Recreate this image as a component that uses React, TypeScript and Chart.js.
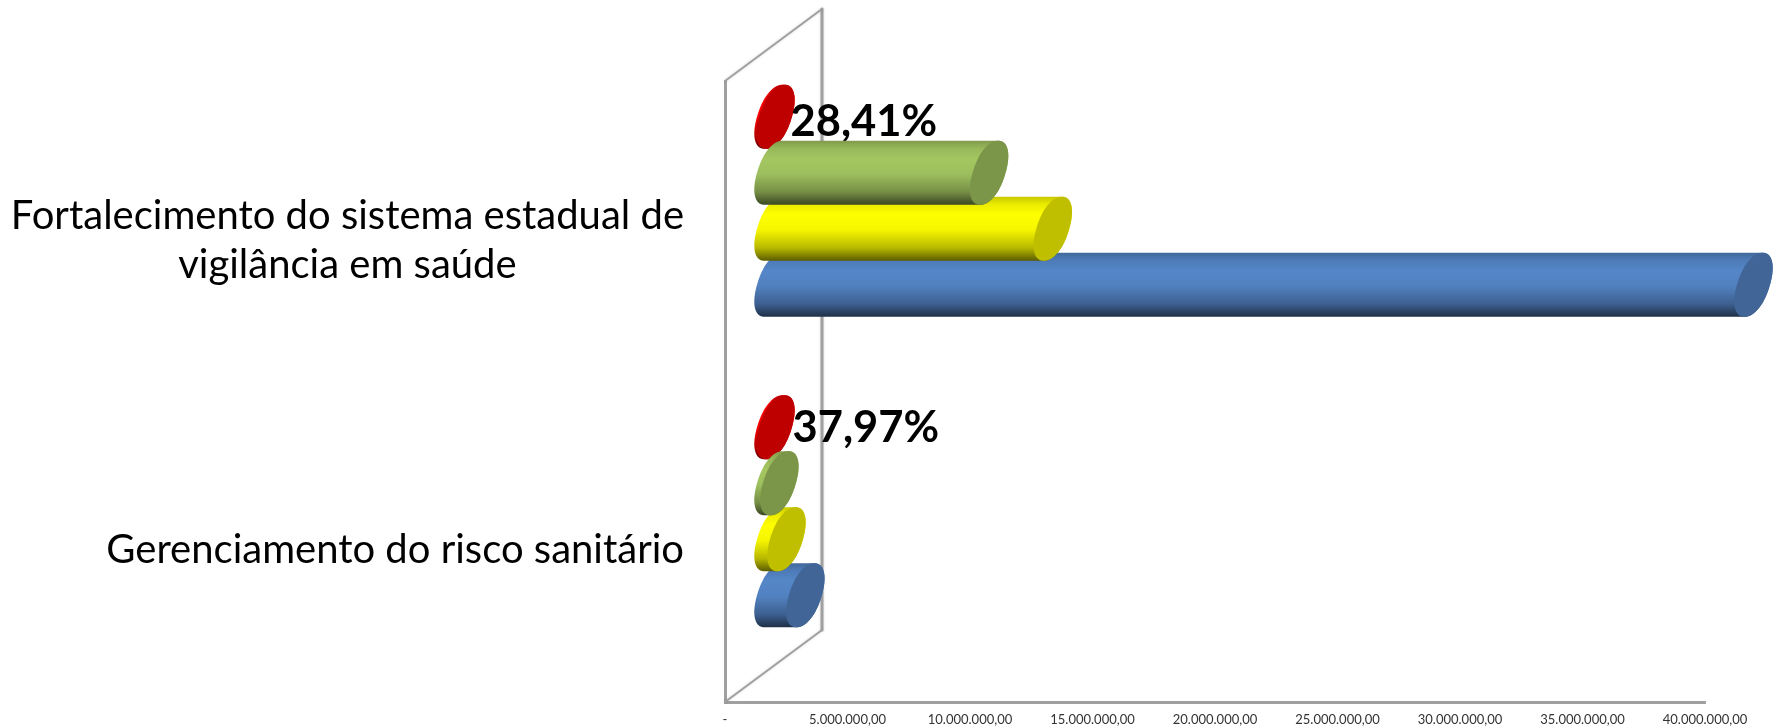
import React, { useEffect, useRef } from "react";
import { Chart, registerables } from "chart.js";

Chart.register(...registerables);

const categories = [
  ["Fortalecimento do sistema estadual de", "vigilância em saúde"],
  ["Gerenciamento do risco sanitário"],
];
const redValues = [80000, 80000];
const greenValues = [8800000, 240000];
const yellowValues = [11400000, 530000];
const blueValues = [40000000, 1300000];
const percentLabels = ["28,41%", "37,97%"];

const seriesRed = "#FF0000";
const seriesGreen = "#A4C761";
const seriesYellow = "#FFFF00";
const seriesBlue = "#5586C8";

const FONT = "Lato, 'Open Sans', sans-serif";
const WALL = "#a0a0a0";
const DEPTH_X = 97;
const DEPTH_Y = -72;
const BAR_DX = 48.5;
const BAR_DY = -35.5;
const SHEAR = 9;
const CAP_RX = 16.5;
const CAP_POWER = 0.92;

function scaleColor(hex: string, f: number) {
  const n = parseInt(hex.slice(1), 16);
  const c = [(n >> 16) & 255, (n >> 8) & 255, n & 255].map((v) => Math.round(v * f));
  return `rgb(${c[0]},${c[1]},${c[2]})`;
}

function capPoint(cx: number, cy: number, ry: number, t: number) {
  const c = Math.cos(t);
  const s = Math.sin(t);
  const sc = Math.sign(c) * Math.pow(Math.abs(c), CAP_POWER);
  const ss = Math.sign(s) * Math.pow(Math.abs(s), CAP_POWER);
  return [cx + CAP_RX * sc - SHEAR * ss, cy + ry * ss];
}

function cylinder(ctx: CanvasRenderingContext2D, el: any, color: string) {
  const cy = el.y;
  const ry = el.height / 2;
  const g = ctx.createLinearGradient(0, cy - ry, 0, cy + ry);
  g.addColorStop(0, scaleColor(color, 0.78));
  g.addColorStop(0.12, scaleColor(color, 0.92));
  g.addColorStop(0.28, scaleColor(color, 1));
  g.addColorStop(0.52, scaleColor(color, 0.96));
  g.addColorStop(0.8, scaleColor(color, 0.72));
  g.addColorStop(1, scaleColor(color, 0.36));
  const N = 48;
  ctx.beginPath();
  // left half of the near end, top edge, right half of the far end, bottom edge
  for (let i = 0; i <= N; i++) {
    const t = Math.PI / 2 + (Math.PI * i) / N;
    const p = capPoint(el.base, cy, ry, t);
    if (i === 0) ctx.moveTo(p[0], p[1]);
    else ctx.lineTo(p[0], p[1]);
  }
  for (let i = 0; i <= N; i++) {
    const t = -Math.PI / 2 + (Math.PI * i) / N;
    const p = capPoint(el.x, cy, ry, t);
    ctx.lineTo(p[0], p[1]);
  }
  ctx.closePath();
  ctx.fillStyle = g;
  ctx.fill();
  ctx.beginPath();
  for (let i = 0; i <= 2 * N; i++) {
    const p = capPoint(el.x, cy, ry, (Math.PI * i) / N);
    if (i === 0) ctx.moveTo(p[0], p[1]);
    else ctx.lineTo(p[0], p[1]);
  }
  ctx.closePath();
  ctx.fillStyle = scaleColor(color, 0.75);
  ctx.fill();
}

const cylinderPlugin = {
  id: "cylinderPlugin",
  beforeDatasetsDraw(chart: any) {
    const { ctx, chartArea: a } = chart;
    ctx.save();
    ctx.strokeStyle = WALL;
    ctx.lineCap = "round";
    ctx.shadowColor = "rgba(0,0,0,0.15)";
    ctx.shadowBlur = 3;
    ctx.lineWidth = 3;
    ctx.beginPath();
    ctx.moveTo(a.left + DEPTH_X, a.top + DEPTH_Y);
    ctx.lineTo(a.left + DEPTH_X, a.bottom + DEPTH_Y);
    ctx.stroke();
    ctx.lineWidth = 2;
    ctx.beginPath();
    ctx.moveTo(a.left, a.top);
    ctx.lineTo(a.left + DEPTH_X, a.top + DEPTH_Y);
    ctx.moveTo(a.left, a.bottom);
    ctx.lineTo(a.left + DEPTH_X, a.bottom + DEPTH_Y);
    ctx.stroke();
    ctx.restore();

    // The labelled series sits behind all the others, so it is painted first.
    chart.data.datasets.forEach((ds: any, index: number) => {
      if (!ds.percentLabels) return;
      const data = chart.getDatasetMeta(index).data;
      ctx.save();
      ctx.translate(BAR_DX, BAR_DY);
      data.forEach((el: any) => cylinder(ctx, el, ds.backgroundColor));
      ctx.font = `bold 43.5px ${FONT}`;
      ctx.fillStyle = "#000";
      ctx.textAlign = "left";
      ctx.textBaseline = "middle";
      data.forEach((el: any, i: number) => {
        ctx.fillText(ds.percentLabels[i], el.x + (i === 0 ? 15 : 17), el.y + (i === 0 ? 5.5 : 1));
      });
      ctx.restore();
    });
  },
  beforeDatasetDraw(chart: any, args: any) {
    const { ctx } = chart;
    const ds = chart.data.datasets[args.index];
    if (ds.percentLabels) return false;
    ctx.save();
    ctx.translate(BAR_DX, BAR_DY);
    args.meta.data.forEach((el: any) => cylinder(ctx, el, ds.backgroundColor));
    ctx.restore();
    return false;
  },
  afterDraw(chart: any) {
    const { ctx, scales } = chart;
    const y = scales.y;
    const right = 684;
    const lineGap = 49;
    ctx.save();
    ctx.font = `40px ${FONT}`;
    ctx.fillStyle = "#000";
    ctx.textAlign = "center";
    ctx.textBaseline = "middle";
    categories.forEach((lines, i) => {
      const w = Math.max(...lines.map((l) => ctx.measureText(l).width));
      const cy = y.getPixelForValue(i) + (lines.length > 1 ? 4.5 : 3);
      lines.forEach((l, j) => {
        ctx.fillText(l, right - w / 2, cy + (j - (lines.length - 1) / 2) * lineGap);
      });
    });
    ctx.restore();
  },
};

export default function App() {
  const ref = useRef<HTMLCanvasElement>(null);
  useEffect(() => {
    const chart = new Chart(ref.current as HTMLCanvasElement, {
      type: "bar",
      data: {
        labels: categories as any,
        datasets: [
          { label: "Vermelho", data: redValues, backgroundColor: seriesRed, percentLabels } as any,
          { label: "Verde", data: greenValues, backgroundColor: seriesGreen },
          { label: "Amarelo", data: yellowValues, backgroundColor: seriesYellow },
          { label: "Azul", data: blueValues, backgroundColor: seriesBlue },
        ],
      },
      options: {
        indexAxis: "y",
        responsive: false,
        animation: false,
        categoryPercentage: 0.7214,
        barPercentage: 1.143,
        layout: { padding: { top: 81, right: 72, left: 0, bottom: 0 } },
        plugins: { legend: { display: false }, tooltip: { enabled: false }, title: { display: false } },
        scales: {
          x: {
            type: "linear",
            min: 0,
            max: 40000000,
            afterFit(s: any) {
              s.height = 26;
            },
            grid: { display: false },
            border: { color: WALL, width: 3 },
            ticks: {
              stepSize: 5000000,
              autoSkip: false,
              maxRotation: 0,
              padding: 2,
              color: "#333",
              font: { family: FONT, size: 13 },
              callback: (v: any) =>
                v === 0
                  ? "-"
                  : Number(v).toLocaleString("pt-BR", { minimumFractionDigits: 2, maximumFractionDigits: 2 }),
            },
          },
          y: {
            type: "category",
            afterFit(s: any) {
              s.width = 725;
            },
            grid: { display: false },
            border: { color: WALL, width: 3 },
            ticks: { display: false },
          },
        },
      } as any,
      plugins: [cylinderPlugin],
    });
    return () => chart.destroy();
  }, []);
  return (
    <div style={{ position: "absolute", left: 0, top: 0, width: 1777, height: 728, background: "#fff" }}>
      <canvas ref={ref} width={1777} height={728} style={{ display: "block" }} />
    </div>
  );
}
